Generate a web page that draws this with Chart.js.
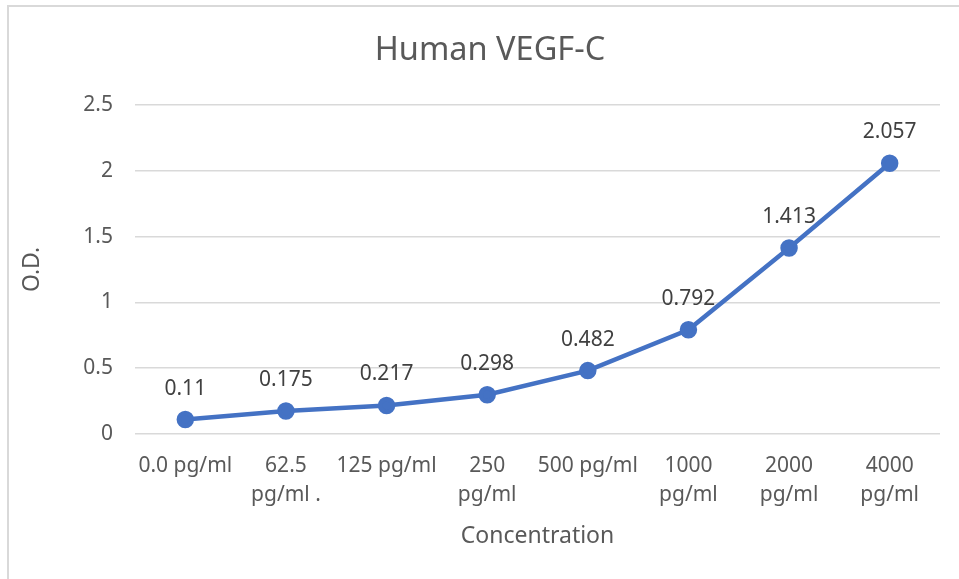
<!DOCTYPE html>
<html>
<head>
<meta charset="utf-8">
<script src="https://cdn.jsdelivr.net/npm/chart.js@4.4.1/dist/chart.umd.min.js"></script>
<style>
  html, body { margin: 0; padding: 0; background: #fff; }
  #wrap { position: relative; width: 959px; height: 579px; }
  #frame { position: absolute; left: 7px; top: 5px; right: 0; bottom: 0;
           border-top: 2px solid #d9d9d9; border-left: 2px solid #d9d9d9; pointer-events: none; }
</style>
</head>
<body>
<div id="wrap">
  <canvas id="chartCanvas" width="959" height="579"></canvas>
  <div id="frame"></div>
</div>
<script>
const categories = [
  ['0.0 pg/ml'],
  ['62.5', 'pg/ml .'],
  ['125 pg/ml'],
  ['250', 'pg/ml'],
  ['500 pg/ml'],
  ['1000', 'pg/ml'],
  ['2000', 'pg/ml'],
  ['4000', 'pg/ml']
];
const odValues = [0.11, 0.175, 0.217, 0.298, 0.482, 0.792, 1.413, 2.057];
const yTicks = [0, 0.5, 1, 1.5, 2, 2.5];

const FONT = "'Noto Sans', 'Open Sans', sans-serif";

// draws the value above each point
const pointLabels = {
  id: 'pointLabels',
  afterDatasetsDraw(chart) {
    const ctx = chart.ctx;
    const meta = chart.getDatasetMeta(0);
    ctx.save();
    ctx.font = '21px ' + FONT;
    ctx.fillStyle = '#404040';
    ctx.textAlign = 'center';
    ctx.textBaseline = 'middle';
    meta.data.forEach((pt, i) => {
      ctx.fillText(String(odValues[i]), pt.x, pt.y - 31);
    });
    ctx.restore();
  }
};

// excel puts the title a bit right of the layout centre
const nudgeTitle = {
  id: 'nudgeTitle',
  afterLayout(chart) {
    const t = chart.titleBlock;
    if (t) { t.left += 16; t.right += 16; }
  }
};

const ctx = document.getElementById('chartCanvas').getContext('2d');
window.myChart = new Chart(ctx, {
  type: 'line',
  data: {
    labels: categories,
    datasets: [{
      label: 'O.D.',
      data: odValues,
      borderColor: '#4472c4',
      backgroundColor: '#4472c4',
      borderWidth: 4.5,
      pointRadius: 6.5,
      pointHoverRadius: 6.5,
      tension: 0
    }]
  },
  options: {
    responsive: false,
    animation: false,
    layout: { padding: { left: 8, right: 19, top: 6, bottom: 0 } },
    plugins: {
      legend: { display: false },
      tooltip: { enabled: false },
      title: {
        display: true,
        text: 'Human VEGF-C',
        color: '#595959',
        font: { family: FONT, size: 32.5, weight: 'normal' },
        padding: { top: 25, bottom: 35 }
      }
    },
    scales: {
      x: {
        offset: true,
        grid: { display: false, drawTicks: false },
        border: { display: false },
        ticks: {
          color: '#595959',
          font: { family: FONT, size: 21, lineHeight: 1.4 },
          padding: 17,
          maxRotation: 0,
          autoSkip: false
        },
        title: {
          display: true,
          text: 'Concentration',
          color: '#595959',
          font: { family: FONT, size: 23 },
          padding: { top: 0, bottom: 29 }
        },
        afterFit(scale) { scale.height = 145; }
      },
      y: {
        min: 0,
        max: 2.5,
        afterBuildTicks(scale) { scale.ticks = yTicks.map(v => ({ value: v })); },
        grid: { color: '#d9d9d9', lineWidth: 1.5, drawTicks: false },
        border: { display: false },
        ticks: {
          color: '#595959',
          font: { family: FONT, size: 21 },
          padding: 22,
          callback: v => String(v)
        },
        title: {
          display: true,
          text: 'O.D.',
          color: '#595959',
          font: { family: FONT, size: 23 },
          padding: { top: 11, bottom: 0 }
        },
        afterFit(scale) { scale.width = 127; }
      }
    }
  },
  plugins: [pointLabels, nudgeTitle]
});
</script>
</body>
</html>
